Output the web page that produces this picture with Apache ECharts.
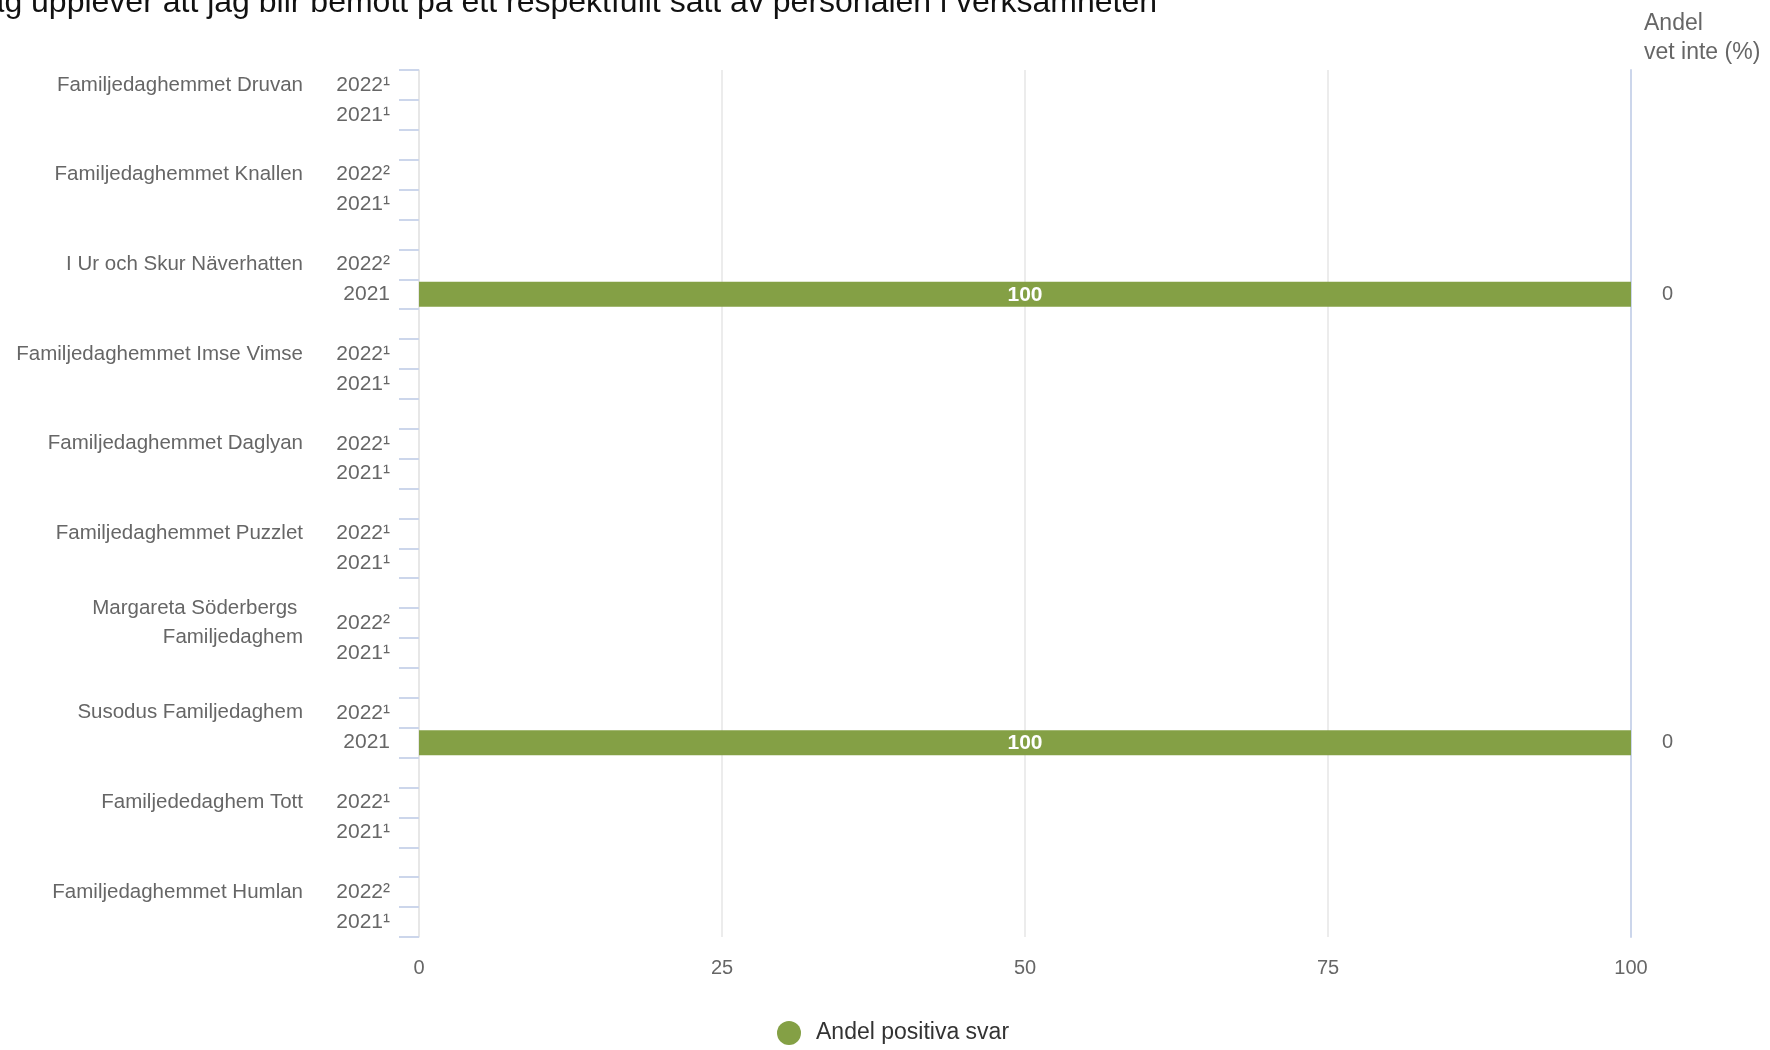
<!DOCTYPE html>
<html>
<head>
<meta charset="utf-8">
<script src="https://cdn.jsdelivr.net/npm/echarts@6/dist/echarts.min.js"></script>
<style>
html,body{margin:0;padding:0;background:#fff;}
#chart{width:1770px;height:1050px;}
</style>
</head>
<body>
<div id="chart"></div>
<script>
const titleText = 'Jag upplever att jag blir bemött på ett respektfullt sätt av personalen i verksamheten';
const rightAxisTitle = 'Andel\nvet inte (%)';
const seriesName = 'Andel positiva svar';

const groups = [
  'Familjedaghemmet Druvan',
  'Familjedaghemmet Knallen',
  'I Ur och Skur Näverhatten',
  'Familjedaghemmet Imse Vimse',
  'Familjedaghemmet Daglyan',
  'Familjedaghemmet Puzzlet',
  'Margareta Söderbergs \nFamiljedaghem',
  'Susodus Familjedaghem',
  'Familjededaghem Tott',
  'Familjedaghemmet Humlan'
];
const labels2022 = ['2022¹','2022²','2022²','2022¹','2022¹','2022¹','2022²','2022¹','2022¹','2022²'];
const labels2021 = ['2021¹','2021¹','2021','2021¹','2021¹','2021¹','2021¹','2021','2021¹','2021¹'];
const positive2022 = [null,null,null,null,null,null,null,null,null,null];
const positive2021 = [null,null,100,null,null,null,null,100,null,null];
const dontKnow2022 = [null,null,null,null,null,null,null,null,null,null];
const dontKnow2021 = [null,null,0,null,null,null,null,0,null,null];
const xTicks = [0,25,50,75,100];

// build rows: 2022, 2021, gap per group
const rows = [];
groups.forEach((g, i) => {
  rows.push({year: labels2022[i], group: g, pos: positive2022[i], dk: dontKnow2022[i]});
  rows.push({year: labels2021[i], group: '', pos: positive2021[i], dk: dontKnow2021[i]});
  if (i < groups.length - 1) rows.push({year: '', group: '', pos: null, dk: null});
});
const keys = rows.map((r, i) => 'r' + i);

const FONT = '"Liberation Sans", Arial, sans-serif';
const chart = echarts.init(document.getElementById('chart'));
chart.setOption({
  animation: false,
  backgroundColor: '#ffffff',
  textStyle: {fontFamily: FONT},
  grid: {left: 419, right: 139, top: 70, bottom: 113, containLabel: false},
  graphic: [
    {type: 'text', right: 1770 - 1157, top: -13, style: {text: titleText, font: '32px ' + FONT, fill: '#111'}},
    {type: 'text', left: 1644, top: 9, style: {text: rightAxisTitle, font: '23px ' + FONT, fill: '#666', lineHeight: 29}}
  ],
  legend: {
    data: [seriesName],
    icon: 'circle',
    itemWidth: 24, itemHeight: 24,
    padding: 0,
    left: 777, top: 1021,
    textStyle: {fontSize: 23, color: '#333', fontFamily: FONT, padding: [3,0,0,10]}
  },
  xAxis: {
    type: 'value', min: xTicks[0], max: xTicks[xTicks.length-1], interval: 25,
    axisLine: {show: false}, axisTick: {show: false},
    axisLabel: {fontSize: 20, color: '#666', margin: 21, fontFamily: FONT},
    splitLine: {show: true, lineStyle: {color: '#e6e6e6', width: 1.5}}
  },
  yAxis: [
    {
      type: 'category', data: keys, inverse: true, position: 'left',
      axisLine: {show: true, lineStyle: {color: '#e6e6e6', width: 1.5}},
      axisTick: {show: true, length: 20, lineStyle: {color: '#ccd6eb', width: 2}},
      axisLabel: {interval: 0, fontSize: 21, color: '#666', margin: 29, fontFamily: FONT,
        formatter: (v, i) => rows[i].year}
    },
    {
      type: 'category', data: keys, inverse: true, position: 'left',
      axisLine: {show: false}, axisTick: {show: false},
      axisLabel: {interval: 0, fontSize: 20.5, color: '#666', margin: 116, lineHeight: 28.5, fontFamily: FONT, align: 'right',
        formatter: (v, i) => rows[i].group}
    },
    {
      type: 'category', data: keys, inverse: true, position: 'right',
      axisLine: {show: true, lineStyle: {color: '#ccd6eb', width: 2}},
      axisTick: {show: false},
      axisLabel: {interval: 0, fontSize: 20, color: '#666', margin: 31, fontFamily: FONT,
        formatter: (v, i) => rows[i].dk == null ? '' : String(rows[i].dk)}
    }
  ],
  series: [{
    name: seriesName, type: 'bar', yAxisIndex: 0,
    data: rows.map(r => r.pos == null ? '-' : r.pos),
    barWidth: 25,
    itemStyle: {color: '#84a045'},
    label: {show: true, position: 'inside', color: '#fff', fontWeight: 'bold', fontSize: 21, fontFamily: FONT, offset: [0, 1]}
  }]
});
</script>
</body>
</html>
